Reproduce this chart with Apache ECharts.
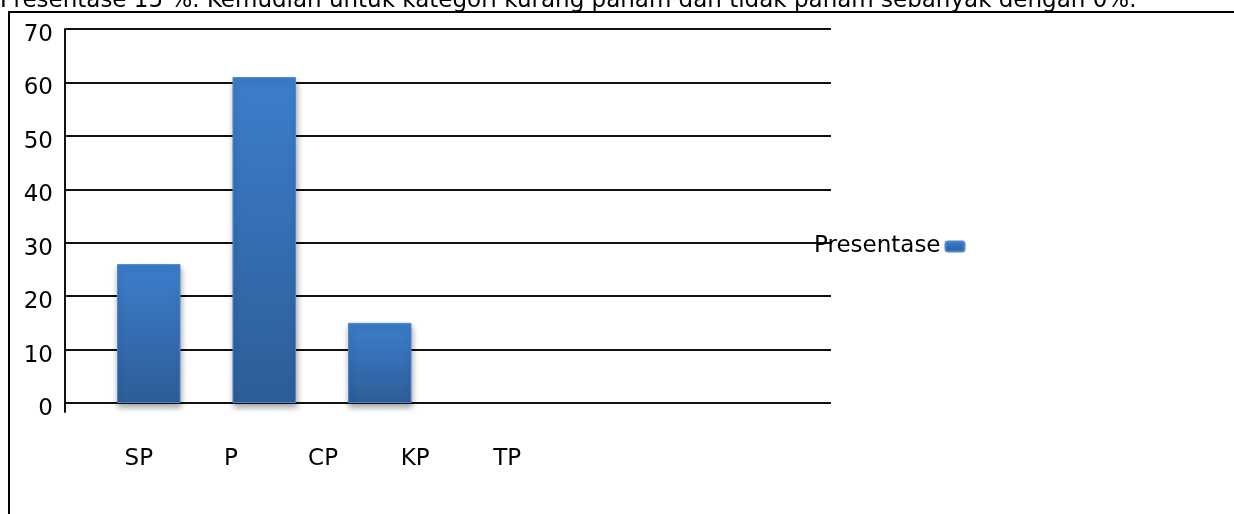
<!DOCTYPE html>
<html>
<head>
<meta charset="utf-8">
<title>Presentase</title>
<script src="https://cdn.jsdelivr.net/npm/echarts@6/dist/echarts.min.js"></script>
<style>
    html,body{margin:0;padding:0;background:#fff;}
    #chartmain{width:1234px;height:514px;}
</style>
</head>
<body>
<div id="chartmain"></div>
<script>
// data
var categories = ['SP', 'P', 'CP', 'KP', 'TP'];
var presentase = [26, 61, 15, 0, 0];
var yTicks = [0, 10, 20, 30, 40, 50, 60, 70];
var seriesName = 'Presentase';
var caption = 'Presentase 15 %. Kemudian untuk kategori kurang paham dan tidak paham sebanyak dengan 0%.';

var font = 'DejaVu Sans';
var fontSize = 23;

var barColor = new echarts.graphic.LinearGradient(
    0, 0, 0, 1,
    [
        {offset: 0, color: '#3c7ecb'},
        {offset: 1, color: '#2e5d98'}
    ]
);

// 0% bars are not drawn in the original
var barData = presentase.map(function(v){
    return v === 0 ? '-' : v;
});

var option = {
    animation: false,
    textStyle: {fontFamily: font},
    graphic: [
        // caption cut at the top
        {
            type: 'text',
            left: 0,
            top: -10,
            style: {text: caption, font: fontSize + 'px "' + font + '"', fill: '#000'}
        },
        // outer frame
        {
            type: 'rect',
            shape: {x: 9, y: 12, width: 1240, height: 520},
            style: {fill: 'none', stroke: '#000', lineWidth: 2}
        }
    ],
    legend: {
        data: [seriesName],
        left: 814,
        top: 235,
        padding: 0,
        align: 'right',
        itemWidth: 19,
        itemHeight: 10,
        textStyle: {fontSize: fontSize, color: '#000', fontFamily: font}
    },
    grid: [
        // gridlines + y labels
        {left: 66, right: 403, top: 29, bottom: 111},
        // bars
        {left: 91, width: 577.5, top: 29, bottom: 111},
        // category labels
        {left: 92.8, width: 460.5, top: 29, bottom: 111},
        // y axis line, a bit longer than the plot
        {left: 65, width: 1, top: 29, bottom: 102}
    ],
    xAxis: [
        {gridIndex: 0, type: 'category', data: categories, show: false},
        {gridIndex: 1, type: 'category', data: categories, show: false},
        {
            gridIndex: 2,
            type: 'category',
            data: categories,
            axisLine: {show: false},
            axisTick: {show: false},
            axisLabel: {margin: 45, fontSize: fontSize, color: '#000', fontFamily: font}
        },
        {gridIndex: 3, type: 'value', show: false}
    ],
    yAxis: [
        {
            gridIndex: 0,
            type: 'value',
            min: yTicks[0],
            max: yTicks[yTicks.length - 1],
            interval: yTicks[1] - yTicks[0],
            axisLine: {show: false},
            axisTick: {show: false},
            axisLabel: {
                margin: 13,
                formatter: '{a|{value}}',
                rich: {
                    a: {
                        fontSize: fontSize,
                        color: '#000',
                        fontFamily: font,
                        padding: [12, 0, 0, 0]
                    }
                }
            },
            splitLine: {lineStyle: {color: '#111', width: 2}}
        },
        {gridIndex: 1, type: 'value', min: 0, max: 70, show: false},
        {gridIndex: 2, type: 'value', min: 0, max: 70, show: false},
        {
            gridIndex: 3,
            type: 'value',
            axisLine: {show: true, lineStyle: {color: '#111', width: 2}},
            axisTick: {show: false},
            axisLabel: {show: false},
            splitLine: {show: false}
        }
    ],
    series: [{
        name: seriesName,
        type: 'bar',
        xAxisIndex: 1,
        yAxisIndex: 1,
        barWidth: '55%',
        itemStyle: {
            color: barColor,
            borderColor: '#4a88d2',
            borderWidth: 1,
            shadowColor: 'rgba(0,0,0,0.35)',
            shadowBlur: 6,
            shadowOffsetX: 1,
            shadowOffsetY: 4
        },
        data: barData
    }]
};

var myChart = echarts.init(document.getElementById('chartmain'));
myChart.setOption(option);
</script>
</body>
</html>
